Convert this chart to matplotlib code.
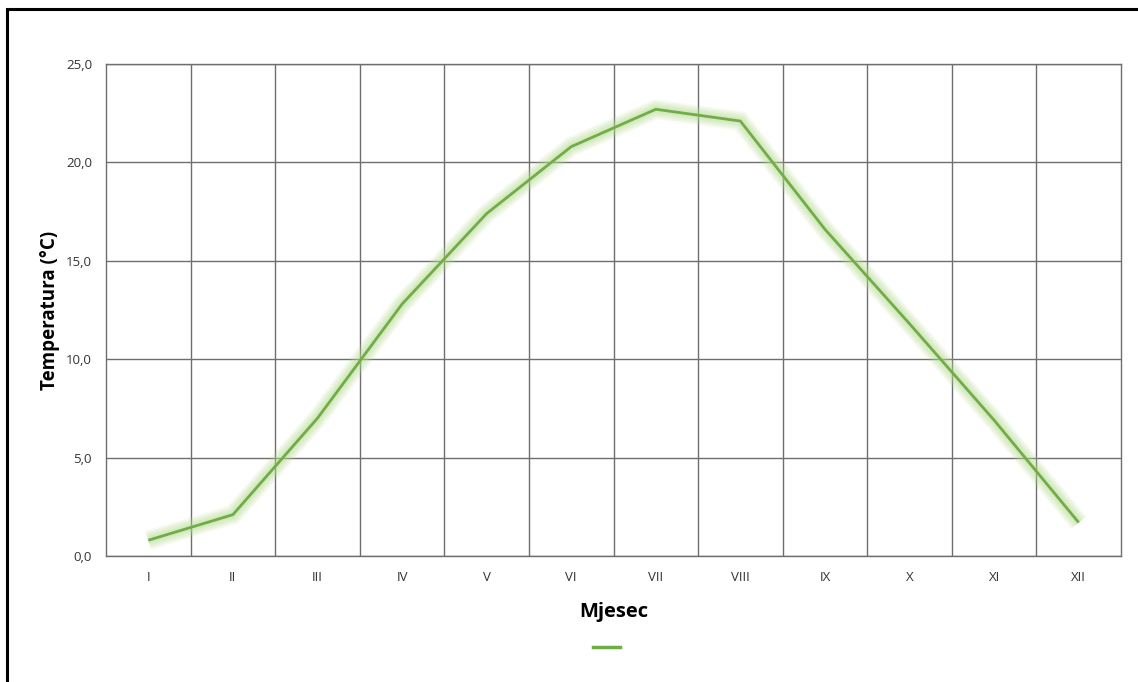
import matplotlib
matplotlib.use("Agg")
import matplotlib.pyplot as plt
import matplotlib.patheffects as pe
from matplotlib.patches import Rectangle
from matplotlib.lines import Line2D
from matplotlib.ticker import FuncFormatter, MultipleLocator
import numpy as np

plt.rcParams['font.family'] = ['Open Sans', 'DejaVu Sans']

# monthly mean temperature
months = ['I', 'II', 'III', 'IV', 'V', 'VI', 'VII', 'VIII', 'IX', 'X', 'XI', 'XII']
temps = [0.8, 2.1, 7.0, 12.8, 17.4, 20.8, 22.7, 22.1, 16.6, 11.8, 6.9, 1.7]

line_color = '#70AD47'
grid_color = '#6e6e6e'

fig = plt.figure(figsize=(11.38, 6.82), dpi=100)
ax = fig.add_axes([106 / 1138, 1 - 556 / 682, (1121 - 106) / 1138, (556 - 64) / 682])

# frame of the screenshot (left and top only visible)
fig.patches.append(Rectangle((7 / 1138, -0.05), 1.2, 1 - 9 / 682 + 0.05,
                             transform=fig.transFigure, fill=False,
                             edgecolor='black', linewidth=2.2, zorder=10))

x = np.arange(len(months))
# soft glow: many wide faint strokes under the line
glow = [pe.Stroke(linewidth=w, foreground='#b5dc8f', alpha=0.12)
        for w in (14, 12, 10, 8, 6, 4.5)] + [pe.Normal()]
ax.plot(x, temps, color=line_color, linewidth=2, path_effects=glow,
        solid_joinstyle='miter', solid_capstyle='butt', zorder=3)

ax.set_xlim(-0.5, len(months) - 0.5)
ax.set_ylim(0, 25)
ax.set_xticks(x)
ax.set_xticklabels(months)
ax.yaxis.set_major_locator(MultipleLocator(5))
ax.yaxis.set_major_formatter(FuncFormatter(lambda v, p: f'{v:.1f}'.replace('.', ',')))

# vertical grid between categories
for b in np.arange(0.5, len(months) - 0.5, 1):
    ax.axvline(b, color=grid_color, linewidth=1, zorder=1)
ax.yaxis.grid(True, color=grid_color, linewidth=1, zorder=1)
ax.set_axisbelow(True)
for s in ax.spines.values():
    s.set_color(grid_color)
    s.set_linewidth(1)

ax.tick_params(length=0, labelsize=9.5, labelcolor='#333333')
ax.tick_params(axis='x', pad=11)
ax.tick_params(axis='y', pad=10)

ax.set_ylabel('Temperatura (°C)', fontsize=13.5, fontweight='bold', labelpad=4)
ax.set_xlabel('Mjesec', fontsize=14.5, fontweight='bold', labelpad=13)

handle = Line2D([], [], color=line_color, linewidth=2.5)
ax.legend([handle], [''], loc='upper center', bbox_to_anchor=(0.493, -0.148),
          frameon=False, handlelength=2.0, handletextpad=0)

fig.savefig('out.png', dpi=100)
